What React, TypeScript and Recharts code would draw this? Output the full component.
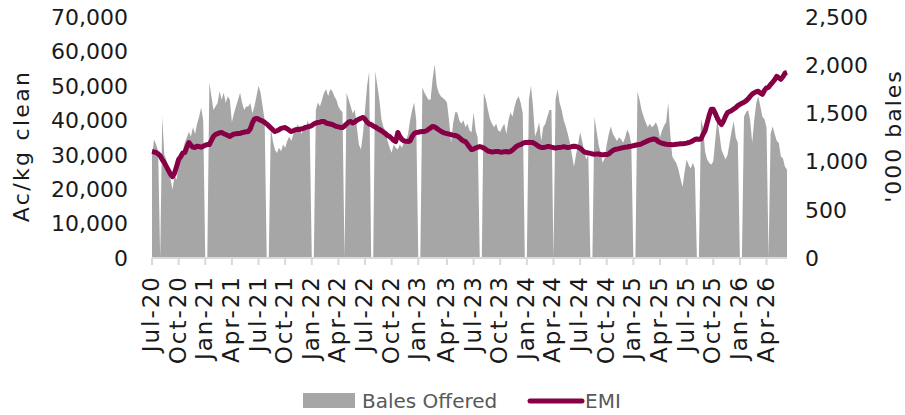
import React from 'react';
import {
  ComposedChart, Area, Line, XAxis, YAxis, Label,
} from 'recharts';

// weekly series, first week = early Jul-20
const balesOffered: number[] = [
  29500, 34400, 33000, 31000, 0, 41000, 30000, 28600, 26000, 23000,
  19800, 24000, 22700, 27000, 29000, 31000, 33500, 35000, 36700, 35300,
  38000, 36000, 39000, 41000, 43700, 40000, 0, 0, 51000, 47000,
  43000, 44000, 45000, 48400, 46000, 48000, 45000, 47000, 46000, 39400,
  42000, 44000, 46000, 48000, 45000, 43000, 44000, 44000, 45000, 42000,
  44000, 47000, 50000, 48000, 44000, 40000, 0, 0, 38000, 34000,
  31500, 30500, 32000, 31000, 33000, 32000, 34000, 35300, 34000, 36000,
  37000, 38800, 38000, 36000, 38000, 37000, 40000, 38000, 0, 0,
  43000, 45200, 44000, 46000, 48000, 49000, 47000, 49000, 48500, 47000,
  46000, 44000, 43000, 42300, 0, 48000, 46000, 44000, 42000, 43000,
  38000, 33000, 31500, 36000, 43000, 50000, 54000, 0, 0, 54300,
  50000, 46000, 40300, 38000, 37000, 34000, 32000, 30600, 33000, 32000,
  31500, 33000, 32000, 33500, 34000, 36000, 40000, 43000, 45200, 40000,
  0, 0, 49600, 48000, 47000, 46000, 46000, 52000, 56300, 50000,
  48000, 47000, 46500, 46000, 45200, 40000, 33500, 39000, 42300, 42300,
  40000, 39000, 40000, 38000, 39000, 37000, 36500, 42300, 37000, 35000,
  0, 0, 48000, 46000, 43000, 40300, 39000, 38000, 39000, 37000,
  36700, 38000, 39000, 36000, 40000, 42300, 41000, 44000, 46000, 47000,
  45000, 42000, 0, 0, 46000, 50000, 44000, 35300, 37000, 39400,
  34000, 38000, 39000, 41000, 43000, 43000, 0, 46000, 49000, 45000,
  43000, 40000, 38200, 36000, 33500, 30000, 26500, 30000, 33000, 36500,
  34000, 31000, 28600, 30000, 0, 0, 41000, 37000, 33000, 30600,
  27700, 29000, 33000, 36000, 38200, 36000, 35000, 34000, 35000, 34500,
  33500, 35000, 37300, 36000, 33000, 0, 0, 48400, 46000, 43000,
  41000, 39400, 38000, 39000, 38000, 38500, 39400, 38000, 35000, 37000,
  38500, 39400, 45200, 36000, 29500, 28500, 27500, 25700, 23000, 20700,
  25000, 28600, 27000, 26000, 27700, 26000, 0, 0, 40300, 38000,
  31000, 28600, 27700, 27100, 28000, 34400, 40300, 36000, 31500, 30000,
  28600, 30000, 33500, 37000, 39700, 35000, 33500, 0, 0, 41000,
  42300, 43000, 40000, 33500, 40000, 45000, 47000, 44000, 41000, 40300,
  38000, 0, 36000, 38200, 36000, 34000, 33500, 29500, 29000, 26500,
  25700,
];

const emiPrice: number[] = [
  1104, 1100, 1095, 1080, 1060, 1021, 990, 950, 910, 870,
  844, 880, 950, 1021, 1050, 1090, 1094, 1150, 1198, 1170,
  1150, 1146, 1160, 1156, 1150, 1160, 1170, 1177, 1177, 1220,
  1260, 1281, 1290, 1300, 1302, 1290, 1280, 1270, 1260, 1275,
  1285, 1290, 1292, 1292, 1300, 1305, 1310, 1312, 1340, 1400,
  1440, 1448, 1440, 1430, 1420, 1406, 1390, 1370, 1350, 1330,
  1312, 1320, 1330, 1345, 1350, 1354, 1340, 1325, 1312, 1320,
  1330, 1333, 1333, 1340, 1345, 1355, 1360, 1365, 1375, 1390,
  1400, 1405, 1410, 1417, 1417, 1400, 1395, 1390, 1385, 1375,
  1365, 1360, 1355, 1354, 1370, 1390, 1410, 1417, 1400, 1410,
  1430, 1440, 1450, 1458, 1440, 1410, 1390, 1385, 1370, 1360,
  1345, 1333, 1320, 1305, 1290, 1270, 1260, 1240, 1220, 1208,
  1302, 1260, 1229, 1215, 1210, 1208, 1215, 1260, 1290, 1302,
  1305, 1310, 1312, 1312, 1320, 1335, 1350, 1365, 1360, 1345,
  1330, 1315, 1302, 1295, 1290, 1285, 1280, 1275, 1271, 1265,
  1250, 1230, 1215, 1208, 1180, 1150, 1125, 1130, 1140, 1150,
  1156, 1150, 1140, 1125, 1110, 1104, 1100, 1102, 1106, 1104,
  1100, 1098, 1102, 1104, 1100, 1104, 1120, 1140, 1160, 1170,
  1177, 1190, 1198, 1198, 1200, 1198, 1198, 1185, 1170, 1155,
  1146, 1145, 1150, 1156, 1156, 1150, 1145, 1140, 1145, 1146,
  1150, 1155, 1150, 1145, 1150, 1156, 1160, 1156, 1150, 1140,
  1120, 1100, 1094, 1090, 1085, 1080, 1075, 1078, 1080, 1073,
  1070, 1073, 1073, 1080, 1100, 1115, 1125, 1130, 1135, 1140,
  1145, 1150, 1152, 1156, 1160, 1165, 1170, 1175, 1177, 1185,
  1195, 1205, 1215, 1225, 1229, 1235, 1230, 1210, 1198, 1190,
  1185, 1180, 1177, 1177, 1175, 1177, 1180, 1182, 1185, 1186,
  1188, 1192, 1198, 1205, 1215, 1229, 1235, 1230, 1235, 1281,
  1320, 1400, 1480, 1542, 1542, 1500, 1450, 1410, 1385, 1420,
  1470, 1510, 1520, 1530, 1545, 1560, 1580, 1594, 1605, 1615,
  1630, 1650, 1677, 1700, 1715, 1725, 1729, 1710, 1698, 1740,
  1765, 1771, 1800, 1823, 1850, 1885, 1870, 1854, 1880, 1917,
  1925,
];

// week index of each quarter start, and its label
const quarterWeeks = [0, 13, 26, 39, 52, 65, 78, 91, 104, 117, 130, 144, 157, 170, 183, 196, 209, 222, 235, 248, 261, 274, 287, 300];
const quarterLabels = [
  'Jul-20', 'Oct-20', 'Jan-21', 'Apr-21', 'Jul-21', 'Oct-21', 'Jan-22', 'Apr-22',
  'Jul-22', 'Oct-22', 'Jan-23', 'Apr-23', 'Jul-23', 'Oct-23', 'Jan-24', 'Apr-24',
  'Jul-24', 'Oct-24', 'Jan-25', 'Apr-25', 'Jul-25', 'Oct-25', 'Jan-26', 'Apr-26',
];
const leftTicks = [0, 10000, 20000, 30000, 40000, 50000, 60000, 70000];
const rightTicks = [0, 500, 1000, 1500, 2000, 2500];

const FONT = '"DejaVu Sans", sans-serif';
const GREY = '#a6a6a6';
const EMI_COLOR = '#870046';

const data = balesOffered.map((b, i) => ({ week: i, bales: b, emi: emiPrice[i] }));

const fmt = (v: number) => v.toLocaleString('en-US');

const QuarterTick = ({ x, y, payload }: any) => {
  const idx = quarterWeeks.indexOf(payload.value);
  return (
    <text
      x={x + 7} y={y}
      transform={`rotate(-90 ${x + 7} ${y})`}
      textAnchor="end"
      fontSize={23}
      letterSpacing={2}
      fontFamily={FONT}
      fill="#1a1a1a"
    >
      {quarterLabels[idx]}
    </text>
  );
};

const leftTitle = () => (
  <text x={21} y={146} transform="rotate(-90 21 146)" textAnchor="middle" dominantBaseline="central"
        fontSize={22} letterSpacing={2.3} fontFamily={FONT} fill="#1a1a1a">
    Ac/kg clean
  </text>
);

const rightTitle = () => (
  <text x={893} y={136} transform="rotate(-90 893 136)" textAnchor="middle" dominantBaseline="central"
        fontSize={22} letterSpacing={2} fontFamily={FONT} fill="#1a1a1a">
    '000 bales
  </text>
);

const LegendRow = () => (
  <svg width={905} height={415} style={{ position: 'absolute', left: 0, top: 0, pointerEvents: 'none' }}>
    <rect x={303} y={393} width={52} height={15} fill={GREY} />
    <text x={362} y={401} dominantBaseline="central" fontSize={20} fontFamily={FONT} fill="#595959">Bales Offered</text>
    <line x1={530} x2={582} y1={401} y2={401} stroke={EMI_COLOR} strokeWidth={5} strokeLinecap="round" />
    <text x={585} y={401} dominantBaseline="central" fontSize={20} fontFamily={FONT} fill="#595959">EMI</text>
  </svg>
);

export default function App() {
  const tickStyle = { fontSize: 22, fill: '#1a1a1a', fontFamily: FONT };
  return (
    <div style={{ position: 'absolute', left: 0, top: 0, width: 905, height: 415, background: '#fff' }}>
      <ComposedChart width={905} height={415} data={data} margin={{ top: 17, right: 0, bottom: 0, left: 0 }}>
        <XAxis
          dataKey="week" type="number" domain={[0, 310]} ticks={quarterWeeks} interval={0}
          height={157} tick={<QuarterTick />} tickSize={7} tickMargin={10}
          axisLine={{ stroke: '#d9d9d9', strokeWidth: 2 }}
          tickLine={{ stroke: '#d9d9d9', strokeWidth: 2 }}
          allowDecimals={false}
        />
        <YAxis
          yAxisId="left" orientation="left" domain={[0, 70000]} ticks={leftTicks}
          width={152} axisLine={false} tickLine={false} tickSize={6} tickMargin={18}
          tick={tickStyle} tickFormatter={fmt}
        >
          <Label content={leftTitle} />
        </YAxis>
        <YAxis
          yAxisId="right" orientation="right" domain={[0, 2500]} ticks={rightTicks}
          width={118} axisLine={false} tickLine={false} tickSize={6} tickMargin={12}
          tick={tickStyle} tickFormatter={fmt}
        >
          <Label content={rightTitle} />
        </YAxis>
        <Area
          yAxisId="left" type="linear" dataKey="bales" name="Bales Offered"
          stroke="none" fill={GREY} fillOpacity={1} isAnimationActive={false}
        />
        <Line
          yAxisId="right" type="linear" dataKey="emi" name="EMI"
          stroke={EMI_COLOR} strokeWidth={5} dot={false} strokeLinejoin="round"
          isAnimationActive={false}
        />
      </ComposedChart>
      <LegendRow />
    </div>
  );
}
